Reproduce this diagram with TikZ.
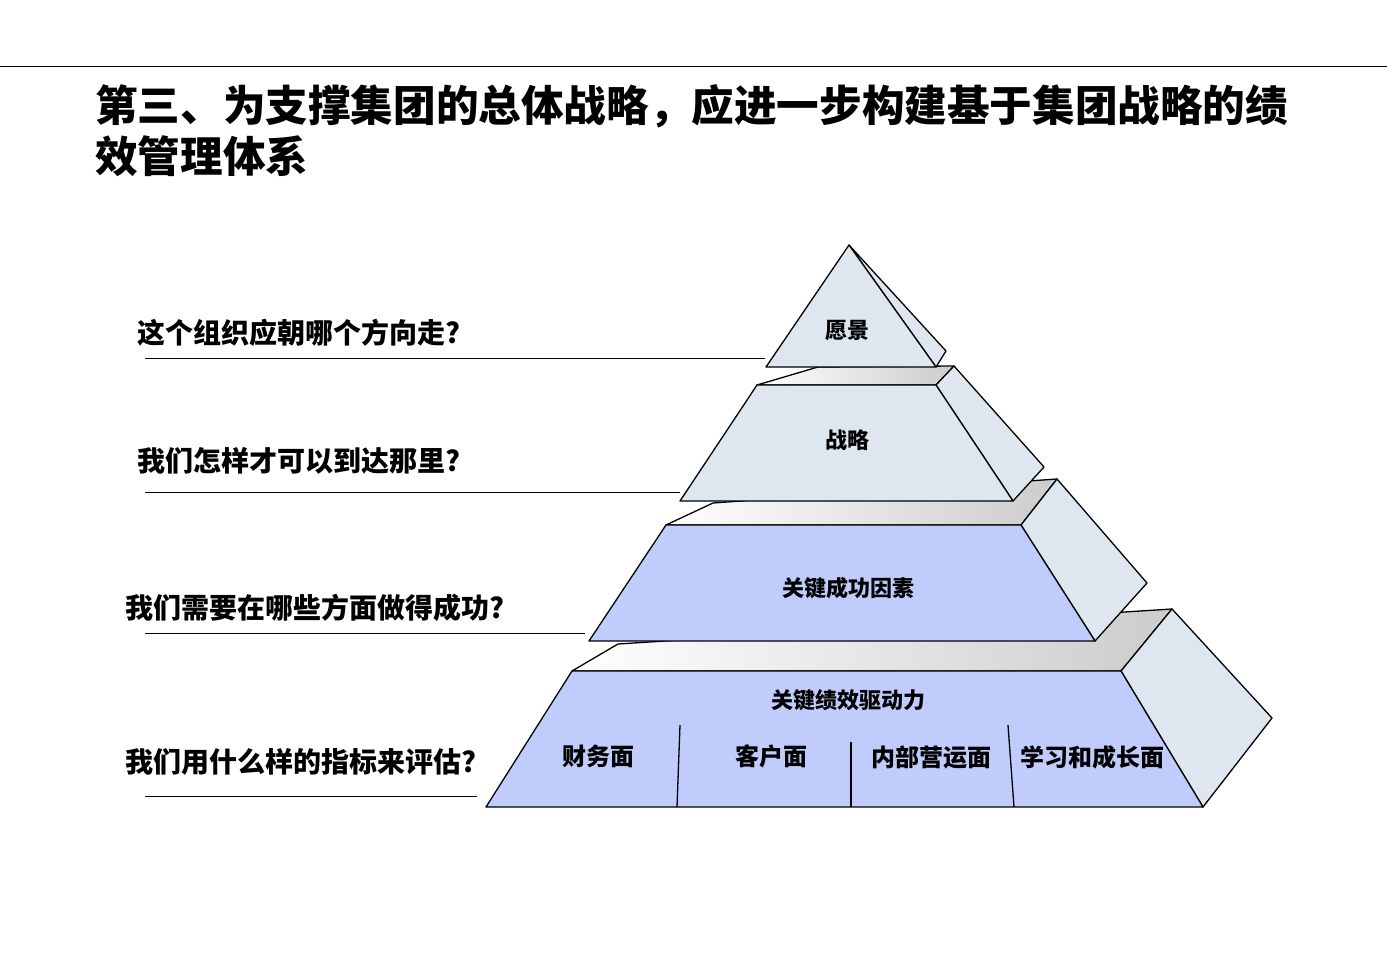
\documentclass[tikz,border=0pt]{standalone}
\usepackage{fontspec}
\setmainfont{Noto Sans CJK SC}
\definecolor{paleface}{HTML}{DEE6EF}
\definecolor{blueface}{HTML}{C0CCFC}
\tikzset{
  face/.style={draw=black, line width=1.3pt, line join=round},
  topface/.style={face, left color=white, right color=gray!40},
  lvl/.style={font=\bfseries\fontsize{22}{26}\selectfont},
  part/.style={font=\bfseries\fontsize{24}{28}\selectfont},
  ask/.style={font=\bfseries\fontsize{28}{32}\selectfont, anchor=west},
  guide/.style={line width=1pt}
}
\begin{document}
\begin{tikzpicture}[x=1pt, y=-1pt]
  \useasboundingbox (0,0) rectangle (1387,960);
  \draw[line width=1pt] (0,67) -- (1387,67);
  % Titel
  \node[anchor=north west, align=left, inner sep=0pt,
        font=\bfseries\fontsize{42.6}{51}\selectfont] (title) at (95,84)
        {第三、为支撑集团的总体战略，应进一步构建基于集团战略的绩\\效管理体系};
  % Stufe 4
  \draw[topface] (572,671) -- (618,644) -- (1172,609) -- (1121,671) -- cycle;
  \draw[face, fill=paleface] (1121,671) -- (1172,609) -- (1272,718) -- (1203,807) -- cycle;
  \draw[face, fill=blueface] (572,671) -- (1121,671) -- (1203,807) -- (486,807) -- cycle;
  \draw[face] (680,725) -- (677,807);
  \draw[face] (851,742) -- (851,807);
  \draw[face] (1008,725) -- (1014,807);
  % Stufe 3
  \draw[topface] (666,525) -- (713,503) -- (1057,479) -- (1021,525) -- cycle;
  \draw[face, fill=paleface] (1021,525) -- (1057,479) -- (1147,583) -- (1095,641) -- cycle;
  \draw[face, fill=blueface] (666,525) -- (1021,525) -- (1095,641) -- (589,641) -- cycle;
  % Stufe 2
  \draw[topface] (757,385) -- (818,367) -- (954,366) -- (936,385) -- cycle;
  \draw[face, fill=paleface] (936,385) -- (954,366) -- (1044,467) -- (1013,501) -- cycle;
  \draw[face, fill=paleface] (757,385) -- (936,385) -- (1013,501) -- (680,501) -- cycle;
  % Spitze
  \draw[face, fill=paleface] (849,245) -- (946,351) -- (936,367) -- cycle;
  \draw[face, fill=paleface] (849,245) -- (936,367) -- (766,367) -- cycle;
  % Beschriftungen
  \node[lvl] (vision) at (847,331) {愿景};
  \node[lvl] (strategy) at (847,440) {战略};
  \node[lvl] (ksf) at (848,588) {关键成功因素};
  \node[lvl] (kpd) at (848,700) {关键绩效驱动力};
  \node[part] (fin) at (598,756) {财务面};
  \node[part] (cust) at (771,756) {客户面};
  \node[part] (proc) at (931,757) {内部营运面};
  \node[part] (learn) at (1092,757) {学习和成长面};
  % Fragen
  \node[ask] (q1) at (134,333) {这个组织应朝哪个方向走?};
  \node[ask] (q2) at (134,461) {我们怎样才可以到达那里?};
  \node[ask] (q3) at (122,608) {我们需要在哪些方面做得成功?};
  \node[ask] (q4) at (122,762) {我们用什么样的指标来评估?};
  \draw[guide] (145,358) -- (765,358);
  \draw[guide] (145,492) -- (680,492);
  \draw[guide] (145,633) -- (585,633);
  \draw[guide] (145,796) -- (477,796);
\end{tikzpicture}
\end{document}
